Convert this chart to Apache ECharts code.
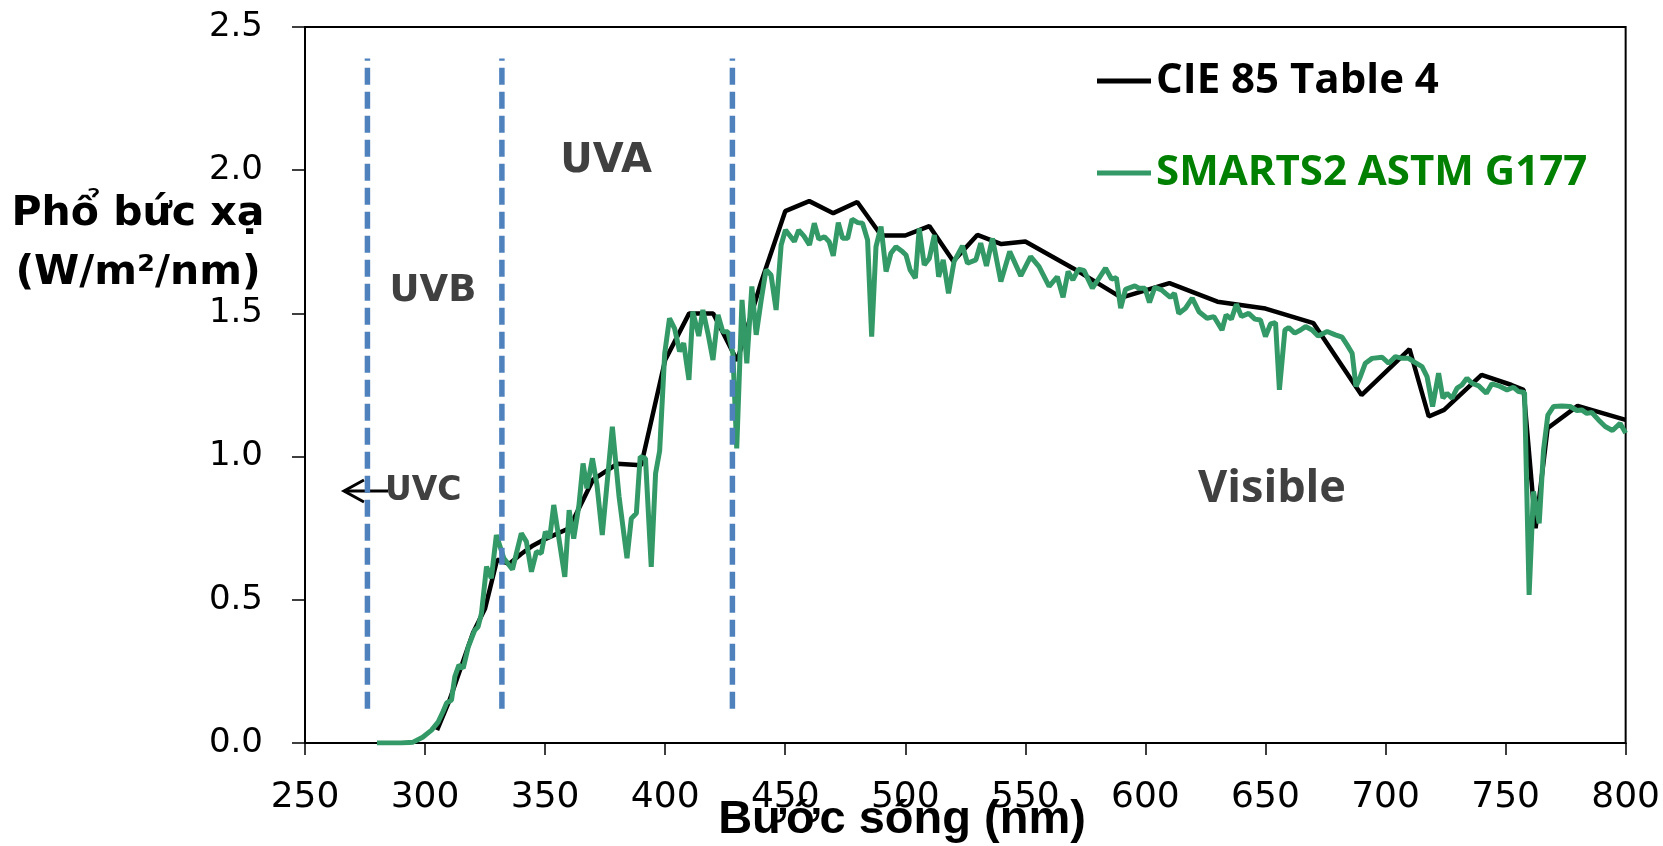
<!DOCTYPE html>
<html>
<head>
    <meta charset="UTF-8">
    <title>Phổ bức xạ</title>
    <script type="text/javascript" src="https://cdn.jsdelivr.net/npm/echarts@6/dist/echarts.min.js"></script>
</head>

<script>
    // CIE 85 Table 4 (black)
    var cieWl = [305, 310, 315, 320, 325, 330, 335, 340, 345, 350, 360, 370, 380, 390, 400, 410, 420, 430, 440, 450,
        460, 470, 480, 490, 500, 510, 520, 530, 540, 550, 570, 590, 610, 630, 650, 670, 690, 710, 718, 724.4,
        740, 752.5, 757.5, 762.5, 767.5, 780, 800];
    var cieVal = [0.045, 0.145, 0.265, 0.385, 0.47, 0.64, 0.625, 0.66, 0.69, 0.712, 0.75, 0.92, 0.975, 0.97, 1.337, 1.50, 1.50, 1.335, 1.61, 1.857,
        1.892, 1.85, 1.889, 1.772, 1.772, 1.805, 1.682, 1.774, 1.742, 1.751, 1.657, 1.555, 1.606, 1.541, 1.517, 1.466, 1.215, 1.375, 1.14, 1.163,
        1.285, 1.25, 1.233, 0.75, 1.099, 1.177, 1.128];

    // SMARTS2 ASTM G177 (green)
    var smartsWl = [280, 285, 290, 295, 299, 302.7, 305.5, 307.5, 309, 311, 312.4, 314.1, 315.9, 318, 320.7, 322.1, 323.5, 325.6, 327.6, 329.7,
        332.8, 336.4, 340.1, 342.2, 344.3, 346.4, 348.4, 350.1, 351.9, 353.6, 358.2, 360, 361.9, 364.1, 365.8, 367.4, 369.7, 371.6, 373.8, 378,
        380.8, 384.1, 385.9, 388, 389.6, 391.8, 394.2, 396, 397.7, 399.8, 401.8, 403.9, 406, 407.7, 409.9, 411.5, 414, 415.7, 417.8, 419.9,
        422, 424, 426.1, 428.2, 429.8, 432, 434, 436.1, 437.9, 440, 442, 444.1, 446.2, 448.3, 450.1, 453.8, 455.6, 457.8, 460.1, 462.1,
        464, 466.3, 468.3, 470, 472.1, 473.9, 476, 477.8, 480.2, 482.2, 484.3, 486, 487.8, 489.9, 492, 494, 496.1, 498.9, 500.3, 502,
        504.2, 505.8, 507.9, 510, 512.1, 513.9, 515.8, 518, 520.3, 523.8, 525.9, 529.4, 531.4, 533.8, 536.3, 539.8, 543.5, 548.1, 552.2, 555.7,
        559.9, 563.3, 565.7, 567.8, 569.8, 572.1, 574.4, 577.9, 580.7, 583.4, 585.9, 587.9, 589.7, 591.7, 595.6, 597.3, 599.8, 601.7, 603.9, 606.7,
        608.4, 610.4, 612.1, 613.9, 616.7, 619.5, 622.3, 625.7, 628.5, 631.9, 633.6, 635.8, 637.9, 640, 643, 645.6, 647.9, 650, 652.1, 654.2,
        655.8, 658.1, 659.7, 662.2, 664.6, 666.7, 669.4, 671.9, 675.7, 679.1, 681.9, 684, 686.1, 687.7, 689.5, 691.6, 694.4, 698.6, 701.3, 704.1,
        706.9, 709.6, 712.4, 715.2, 717.3, 719.6, 722.1, 723.9, 725.6, 727.7, 729.8, 731.8, 733.9, 736, 738.8, 742, 744.3, 747.1, 750.6, 753.3,
        755.4, 757.9, 759.8, 761.6, 764, 765.8, 767.6, 770, 773.4, 776.9, 779.7, 781.7, 783.8, 785.9, 788.7, 791.5, 794.5, 797.7, 800];
    var smartsVal = [0, 0, 0, 0.003, 0.02, 0.045, 0.074, 0.11, 0.14, 0.15, 0.232, 0.272, 0.261, 0.336, 0.394, 0.406, 0.453, 0.616, 0.575, 0.726,
        0.645, 0.606, 0.732, 0.703, 0.598, 0.668, 0.662, 0.738, 0.715, 0.831, 0.58, 0.813, 0.714, 0.831, 0.976, 0.889, 0.994, 0.901, 0.726, 1.104,
        0.86, 0.645, 0.784, 0.802, 1.0, 0.994, 0.615, 0.941, 1.02, 1.36, 1.483, 1.448, 1.367, 1.396, 1.268, 1.506, 1.421, 1.512, 1.431, 1.337,
        1.495, 1.436, 1.436, 1.36, 1.029, 1.547, 1.326, 1.594, 1.425, 1.547, 1.652, 1.634, 1.512, 1.739, 1.791, 1.751, 1.791, 1.77, 1.739, 1.815,
        1.759, 1.768, 1.75, 1.701, 1.817, 1.762, 1.762, 1.829, 1.817, 1.815, 1.756, 1.419, 1.733, 1.803, 1.646, 1.71, 1.733, 1.715, 1.704, 1.652,
        1.623, 1.797, 1.669, 1.692, 1.774, 1.628, 1.687, 1.57, 1.681, 1.736, 1.675, 1.687, 1.745, 1.666, 1.762, 1.611, 1.716, 1.631, 1.698, 1.663,
        1.594, 1.628, 1.556, 1.646, 1.617, 1.654, 1.65, 1.588, 1.623, 1.658, 1.62, 1.625, 1.518, 1.584, 1.596, 1.588, 1.588, 1.538, 1.591, 1.582,
        1.57, 1.556, 1.57, 1.5, 1.518, 1.553, 1.506, 1.483, 1.489, 1.442, 1.495, 1.48, 1.532, 1.489, 1.5, 1.48, 1.477, 1.419, 1.463, 1.468,
        1.233, 1.442, 1.45, 1.431, 1.442, 1.454, 1.442, 1.421, 1.437, 1.425, 1.417, 1.39, 1.361, 1.245, 1.279, 1.326, 1.343, 1.347, 1.326, 1.349,
        1.343, 1.343, 1.328, 1.314, 1.279, 1.175, 1.291, 1.204, 1.221, 1.204, 1.239, 1.25, 1.274, 1.256, 1.247, 1.221, 1.254, 1.247, 1.233, 1.242,
        1.227, 1.224, 0.517, 0.878, 0.767, 1.023, 1.145, 1.175, 1.177, 1.175, 1.161, 1.163, 1.151, 1.154, 1.128, 1.105, 1.091, 1.116, 1.082];

    // band boundaries (UVB / UVA / visible) drawn as dashed verticals
    var bandEdges = [276, 332, 428];
    var dashSpan = [0.12, 2.39];

    var seriesNames = ['CIE 85 Table 4', 'SMARTS2 ASTM G177'];

    function pairs(xs, ys) {
        var out = [];
        for (var i = 0; i < xs.length; i++) {
            out.push([xs[i], ys[i]]);
        }
        return out;
    }

    var tickFont = "'DejaVu Sans', sans-serif";
    var labelGrey = '#404040';

    window.onload = function () {
        var chart = echarts.init(document.getElementById('chart'));

        var series = [
            {
                name: seriesNames[0], type: 'line', data: pairs(cieWl, cieVal),
                showSymbol: false, symbol: 'none', color: '#000000',
                lineStyle: {color: '#000000', width: 4.5}
            },
            {
                name: seriesNames[1], type: 'line', data: pairs(smartsWl, smartsVal),
                showSymbol: false, symbol: 'none', color: '#339966',
                lineStyle: {color: '#339966', width: 5}
            }
        ];
        bandEdges.forEach(function (edge) {
            series.push({
                type: 'line', silent: true, symbol: 'none', z: 5,
                data: [[edge, dashSpan[0]], [edge, dashSpan[1]]],
                lineStyle: {color: '#4F81BD', width: 5.5, type: [17, 7]}
            });
        });

        var option = {
            animation: false,
            grid: {left: 305, right: 35, top: 27, bottom: 103, show: true, borderColor: '#000', borderWidth: 2},
            legend: {
                orient: 'vertical', left: 1092, top: 55,
                itemWidth: 54, itemHeight: 5, itemGap: 50, icon: 'rect',
                data: [
                    {name: seriesNames[0], textStyle: {color: '#000000'}},
                    {name: seriesNames[1], textStyle: {color: '#008000'}}
                ],
                textStyle: {fontSize: 42, fontWeight: 'bold', fontFamily: "'Open Sans', sans-serif"}
            },
            xAxis: {
                type: 'value', min: 250, max: 800, interval: 50,
                axisLine: {lineStyle: {color: '#000', width: 2}},
                axisTick: {length: 12, lineStyle: {color: '#000', width: 1.5}},
                axisLabel: {fontSize: 36, fontFamily: tickFont, color: '#000', margin: 37, showMinLabel: true, showMaxLabel: true},
                splitLine: {show: false}
            },
            yAxis: {
                type: 'value', min: 0, max: 2.5, interval: 0.5,
                axisLine: {show: true, lineStyle: {color: '#000', width: 2}},
                axisTick: {show: true, length: 13, lineStyle: {color: '#000', width: 1.5}},
                axisLabel: {
                    fontSize: 34, fontFamily: tickFont, color: '#000', margin: 42,
                    formatter: function (v) { return v.toFixed(1); }
                },
                splitLine: {show: false}
            },
            series: series,
            graphic: [
                {type: 'text', x: 138, y: 214, style: {text: 'Phổ bức xạ', fill: '#000', font: "bold 41px 'DejaVu Sans'", align: 'center', verticalAlign: 'middle'}},
                {type: 'text', x: 138, y: 273, style: {text: '(W/m²/nm)', fill: '#000', font: "bold 41px 'DejaVu Sans'", align: 'center', verticalAlign: 'middle'}},
                {type: 'text', x: 902, y: 820, style: {text: 'Bước sóng (nm)', fill: '#000', font: "bold 47px 'Liberation Sans'", align: 'center', verticalAlign: 'middle'}},
                {type: 'text', x: 606, y: 162, style: {text: 'UVA', fill: labelGrey, font: "bold 40px 'DejaVu Sans'", align: 'center', verticalAlign: 'middle'}},
                {type: 'text', x: 433, y: 291, style: {text: 'UVB', fill: labelGrey, font: "bold 37px 'DejaVu Sans'", align: 'center', verticalAlign: 'middle'}},
                {type: 'text', x: 385, y: 491, style: {text: 'UVC', fill: labelGrey, font: "bold 33px 'DejaVu Sans'", align: 'left', verticalAlign: 'middle'}},
                {type: 'text', x: 1272, y: 489, style: {text: 'Visible', fill: labelGrey, font: "bold 45px 'Open Sans'", align: 'center', verticalAlign: 'middle'}},
                {type: 'line', shape: {x1: 344, y1: 491, x2: 388, y2: 491}, style: {stroke: '#000', lineWidth: 3}},
                {type: 'polyline', shape: {points: [[364, 480], [344, 491], [364, 502]]}, style: {stroke: '#000', lineWidth: 3, fill: null}}
            ]
        };
        chart.setOption(option);
    };
</script>

<body style="margin: 0;background: #ffffff;">
<div id="chart" style="width:1663px;height:846px;"></div>
</body>

</html>
